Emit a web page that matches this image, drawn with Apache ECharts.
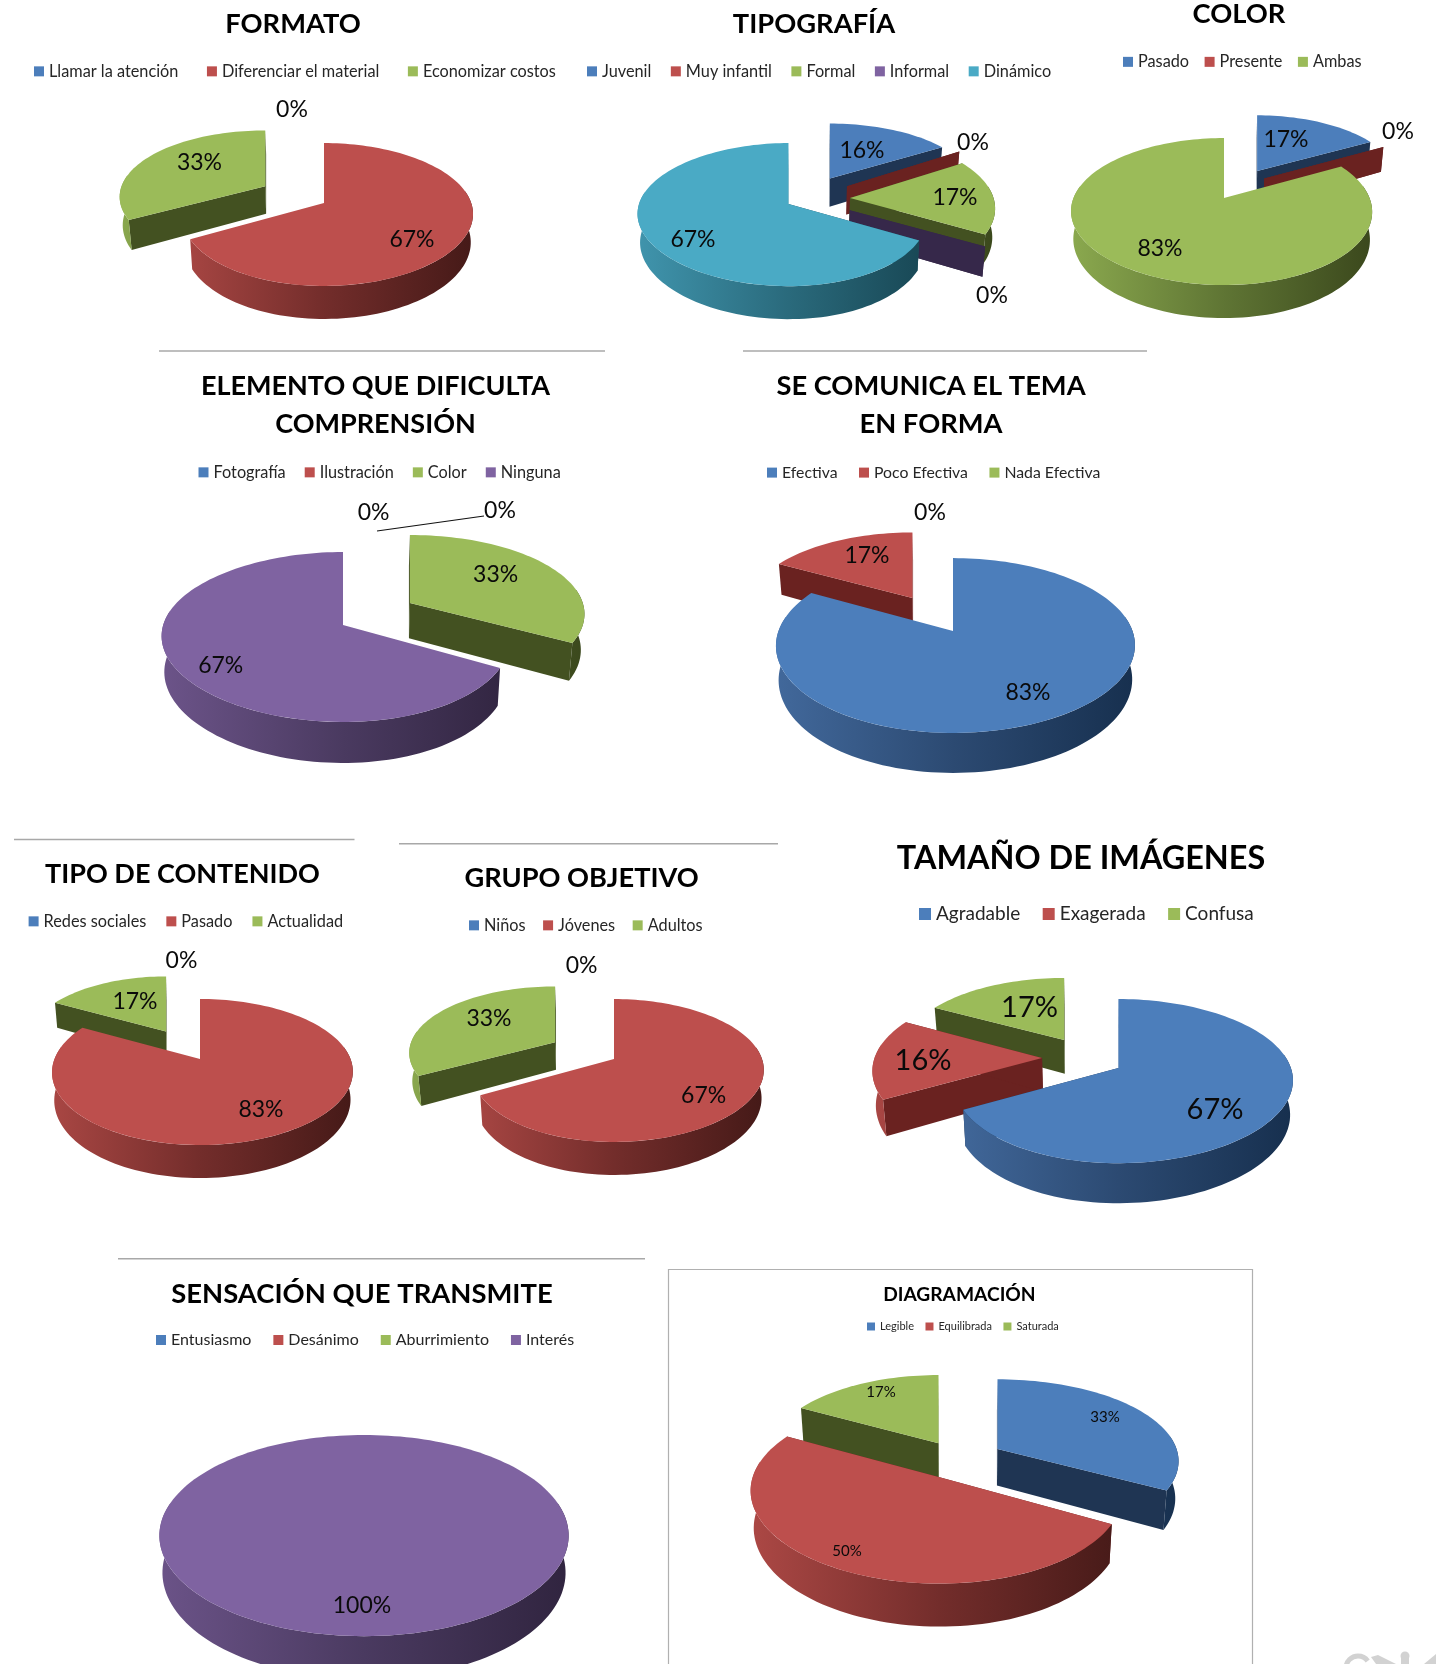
<!DOCTYPE html>
<html><head><meta charset="utf-8">
<style>html,body{margin:0;padding:0;background:#fff}#c{width:1436px;height:1664px}</style>
<script src="https://cdn.jsdelivr.net/npm/echarts@6/dist/echarts.min.js"></script>
</head><body><div id="c"></div>
<script>
// ---- data ----
const formatoCategories = ['Llamar la atención','Diferenciar el material','Economizar costos'];
const formatoValues = [0,67,33];
const tipografiaCategories = ['Juvenil','Muy infantil','Formal','Informal','Dinámico'];
const tipografiaValues = [16,0,17,0,67];
const colorCategories = ['Pasado','Presente','Ambas'];
const colorValues = [17,0,83];
const elementoCategories = ['Fotografía','Ilustración','Color','Ninguna'];
const elementoValues = [0,0,33,67];
const comunicaCategories = ['Efectiva','Poco Efectiva','Nada Efectiva'];
const comunicaValues = [83,17,0];
const contenidoCategories = ['Redes sociales','Pasado','Actualidad'];
const contenidoValues = [0,83,17];
const grupoCategories = ['Niños','Jóvenes','Adultos'];
const grupoValues = [0,67,33];
const tamanoCategories = ['Agradable','Exagerada','Confusa'];
const tamanoValues = [67,16,17];
const sensacionCategories = ['Entusiasmo','Desánimo','Aburrimiento','Interés'];
const sensacionValues = [0,0,0,100];
const diagramacionCategories = ['Legible','Equilibrada','Saturada'];
const diagramacionValues = [33,50,17];

// ---- styling: series palette in Office order ----
const PALETTE = [
 {top:'#4c7ebb',flat:'#1f3553',light:'#42699c',mid:'#2c4a72',dark:'#17304f'},
 {top:'#bd4f4d',flat:'#6a2220',light:'#aa4744',mid:'#732d2b',dark:'#461a18'},
 {top:'#9bbb59',flat:'#435121',light:'#8aa84e',mid:'#5f7534',dark:'#3a471c'},
 {top:'#7f63a1',flat:'#36284a',light:'#6b5388',mid:'#4a3a60',dark:'#30243f'},
 {top:'#4aaac5',flat:'#1d5363',light:'#3f93ab',mid:'#2a6a7c',dark:'#174552'}
];
const FONT='Lato';

// ---- layout of each panel ----
const CHARTS = [
 {title:'FORMATO',cats:formatoCategories,vals:formatoValues,
  cx:324,cy:203,R:143.7,S:69.6,k:.161,h:33,explode:[0,0,.475],order:[0,2,1],ax:{1:3.5},sc:{2:[1,.93]},
  labels:[[292,108],[412,238],[199.5,161]],labelSize:23,
  tx:293,ty:24,ts:27.3,lx:34,ly:71.5,lgap:28.5,ls:16.3},
 {title:'TIPOGRAFÍA',cats:tipografiaCategories,vals:tipografiaValues,
  cx:807,cy:198.75,R:143.5,S:70,k:.147,h:33,explode:[.33,.33,.3,.34,.15],order:[0,1,2,3,4],ax:{4:-6},sc:{0:[1,.9]},
  labels:[[862,148.6],[973,141],[955,196],[992,294],[693,238]],labelSize:23,
  tx:814,ty:24,ts:27.3,lx:587,ly:71.5,lgap:19.5,ls:16.3},
 {title:'COLOR',cats:colorCategories,vals:colorValues,
  cx:1224,cy:198,R:148,S:71,k:.184,h:33,explode:[.44,.31,0],order:[0,1,2],ax:{2:-2.5},nudge:{1:[0,-9]},sc:{0:[.95,.93]},
  labels:[[1286,138],[1398,130.5],[1160,247]],labelSize:23,
  tx:1239,ty:14,ts:27.3,lx:1123,ly:62,lgap:15.5,ls:16.3},
 {title:'ELEMENTO QUE DIFICULTA\nCOMPRENSIÓN',cats:elementoCategories,vals:elementoValues,
  cx:343,cy:625,R:172.8,S:83.3,k:.141,h:41,explode:[0,0,.45,0],order:[0,1,2,3],ax:{3:-7},nudge:{2:[0,-3]},sc:{2:[1,.93]},
  labels:[[373.6,511.5],[500,509.4],[495.6,573],[220.7,664]],labelSize:23,
  tx:375.5,ty:405,ts:27,lh:38,lx:198.5,ly:472.5,lgap:19,ls:16.3,
  leader:[[377,531],[484,516]]},
 {title:'SE COMUNICA EL TEMA\nEN FORMA',cats:comunicaCategories,vals:comunicaValues,
  cx:953,cy:631,R:177,S:85,k:.166,h:40,explode:[0,.45,0],order:[2,1,0],ax:{0:2.5},sc:{1:[.93,.9]},
  labels:[[1028,691],[867,554],[930,511.5]],labelSize:23,
  tx:931,ty:405,ts:27.3,lh:38,lx:767,ly:472.5,lgap:21.5,ls:15.8},
 {title:'TIPO DE CONTENIDO',cats:contenidoCategories,vals:contenidoValues,
  cx:200,cy:1059,R:148,S:70.7,k:.178,h:33,explode:[0,0,.45],order:[0,2,1],ax:{1:2.5},sc:{2:[.93,.92]},
  labels:[[181.5,959],[261,1108],[135,1000]],labelSize:23,
  tx:182.5,ty:874,ts:27,lx:28.6,ly:921.5,lgap:20,ls:16.3},
 {title:'GRUPO OBJETIVO',cats:grupoCategories,vals:grupoValues,
  cx:614,cy:1059,R:144,S:69.6,k:.161,h:33,explode:[0,0,.475],order:[0,2,1],ax:{1:4},sc:{2:[1,.93]},
  labels:[[581.6,963.6],[703.6,1094],[489,1017]],labelSize:23,
  tx:581.6,ty:878.7,ts:27.2,lx:469,ly:925.5,lgap:17.5,ls:16.3},
 {title:'TAMAÑO DE IMÁGENES',cats:tamanoCategories,vals:tamanoValues,
  cx:1104,cy:1064,R:167.5,S:80,k:.159,h:40,explode:[.1,.37,.42],order:[2,1,0],ax:{0:5},nudge:{1:[0,-6],2:[-4,5]},sc:{2:[.95,.9]},
  labels:[[1215,1108],[923,1059],[1029.5,1006]],labelSize:29,
  tx:1081,ty:858.5,ts:32.4,lx:919,ly:914,lgap:22.5,ls:19,isize:12},
 {title:'SENSACIÓN QUE TRANSMITE',cats:sensacionCategories,vals:sensacionValues,
  cx:364,cy:1519.5,R:202,S:98,k:.16,h:43,explode:[0,0,0,0],order:[0,1,2,3],
  labels:[null,null,null,[362,1603.6]],labelSize:23,
  tx:362,ty:1293.7,ts:27.4,lx:156,ly:1340,lgap:22,ls:16,isize:10},
 {title:'DIAGRAMACIÓN',cats:diagramacionCategories,vals:diagramacionValues,
  cx:959,cy:1460,R:179,S:87,k:.15,h:43,explode:[.25,.225,.225],order:[2,0,1],ax:{1:-2.5},sc:{0:[1,.92],1:[1.03,1.04],2:[.94,.9]},
  labels:[[1105,1416],[847,1549.5],[881,1391]],labelSize:15,
  tx:959.4,ty:1294.7,ts:19.2,lx:867,ly:1326.5,lgap:11.5,ls:11,isize:8}
];
const RULES=[[159,351,605,351],[743,351,1147,351],[14,839.5,354.5,839.5],[399,843.7,778,843.7],[118,1258.7,645,1258.7]];

// ---- perspective pie geometry ----
function makeRenderer(chart,slice,zBase){
 const total=chart.vals.reduce((a,b)=>a+b,0);
 const before=chart.vals.slice(0,slice).reduce((a,b)=>a+b,0);
 const {cx,cy,R,S,k,h}=chart;
 const pal=PALETTE[slice];
 const ax=(chart.ax&&chart.ax[slice])||0;
 const nudge=(chart.nudge&&chart.nudge[slice])||[0,0];
 const sc=(chart.sc&&chart.sc[slice])||[1,1];
 return function(params,api){
  const value=api.value(0);
  const a0=before/total*2*Math.PI;
  const a1=(before+value)/total*2*Math.PI;
  const mid=(a0+a1)/2;
  const e=chart.explode[slice];
  const ox=R*e*Math.sin(mid)+nudge[0],oy=-S*e*Math.cos(mid)+nudge[1];
  const pt=(r,a,low)=>{
    const u=r*Math.sin(a),v=-r*Math.cos(a),w=1-k*v;
    const x=(R*u/w+ax*u*u)*sc[0]+ox,y=S*v/w*sc[1]+oy;
    return low?[cx+x*.985,cy+y+h*(1-k)/w]:[cx+x,cy+y];
  };
  const arc=(s,t,low)=>{
    const n=Math.max(1,Math.ceil(Math.abs(t-s)/(Math.PI/90)));
    const out=[];
    for(let i=0;i<=n;i++)out.push(pt(1,s+(t-s)*i/n,low));
    return out;
  };
  const kids=[];
  const poly=(points,fill,z2)=>kids.push({type:'polygon',shape:{points},style:{fill,stroke:null},z2:z2,silent:true});
  const wall=a=>[pt(0,a,false),pt(1,a,false),pt(1,a,true),pt(0,a,true)];
  if(e>0){poly(wall(a0),pal.flat,zBase);poly(wall(a1),pal.flat,zBase);}
  if(value>0){
    const f0=Math.PI*80/180,f1=Math.PI*280/180;
    const s=Math.max(a0,f0),t=Math.min(a1,f1);
    if(t>s){
      const band=arc(s,t,false).concat(arc(s,t,true).reverse());
      poly(band,{type:'linear',global:true,x:cx+ox-R*1.02,y:0,x2:cx+ox+R*1.02,y2:0,
        colorStops:[{offset:0,color:pal.light},{offset:.5,color:pal.mid},{offset:1,color:pal.dark}]},zBase+1);
    }
    const cap=(value===total?[]:[pt(0,a0,false)]).concat(arc(a0,a1,false));
    poly(cap,pal.top,zBase+2);
  }
  const lab=chart.labels[slice];
  if(lab){
    kids.push({type:'text',x:lab[0],y:lab[1]+1.5,z2:9000,silent:true,
      style:{text:value+'%',fill:'#0a0a0a',font:chart.labelSize+'px '+FONT,align:'center',verticalAlign:'middle'}});
  }
  return {type:'group',children:kids};
 };
}

const series=[],titles=[],legends=[];
CHARTS.forEach((c,ci)=>{
 titles.push({text:c.title,left:c.tx,top:c.ty-(c.title.includes('\n')?c.lh:c.ts*.6),textAlign:'center',padding:0,
   textStyle:{fontFamily:FONT,fontWeight:'bold',fontSize:c.ts,color:'#000',lineHeight:c.lh||c.ts*1.2}});
 legends.push({left:c.lx,top:c.ly-c.ls/2,padding:0,orient:'horizontal',itemGap:c.lgap,
   itemWidth:c.isize||10,itemHeight:c.isize||10,icon:'rect',selectedMode:false,
   textStyle:{fontFamily:FONT,fontSize:c.ls,color:'#262626'},
   data:c.cats.map((n,i)=>({name:n,itemStyle:{color:PALETTE[i].top}}))});
 c.order.forEach((slice,pos)=>{
   series.push({type:'custom',name:c.cats[slice],coordinateSystem:'none',silent:true,animation:false,
     data:[[c.vals[slice]]],renderItem:makeRenderer(c,slice,(ci+1)*100+pos*10)});
 });
});
const graphicEls=RULES.map(r=>({type:'line',shape:{x1:r[0],y1:r[1],x2:r[2],y2:r[3]},style:{stroke:'#a8a8a8',lineWidth:1.5},silent:true}));
graphicEls.push({type:'rect',shape:{x:668.5,y:1269.5,width:584,height:420},style:{fill:'none',stroke:'#b0b0b0',lineWidth:1.2},silent:true});
CHARTS.forEach(c=>{if(c.leader)graphicEls.push({type:'line',shape:{x1:c.leader[0][0],y1:c.leader[0][1],x2:c.leader[1][0],y2:c.leader[1][1]},style:{stroke:'#111',lineWidth:1.2},silent:true});});
// faint logo corner in the scan
graphicEls.push({type:'arc',shape:{cx:1358,cy:1668,r:12,startAngle:Math.PI,endAngle:Math.PI*1.8},style:{stroke:'#d2d2d2',fill:'none',lineWidth:5},silent:true});
graphicEls.push({type:'polygon',shape:{points:[[1371,1657],[1378,1655],[1396,1664],[1376,1664]]},style:{fill:'#d2d2d2'},silent:true});
graphicEls.push({type:'circle',shape:{cx:1405,cy:1656,r:4.5},style:{fill:'#d2d2d2'},silent:true});
graphicEls.push({type:'rect',shape:{x:1401,y:1658,width:8,height:6},style:{fill:'#d2d2d2'},silent:true});
graphicEls.push({type:'polygon',shape:{points:[[1424,1664],[1436,1654],[1436,1664]]},style:{fill:'#d2d2d2'},silent:true});

const chart=echarts.init(document.getElementById('c'),null,{renderer:'canvas'});
chart.setOption({backgroundColor:'#fff',animation:false,title:titles,legend:legends,series:series,graphic:{elements:graphicEls},tooltip:{show:false}});
</script></body></html>
